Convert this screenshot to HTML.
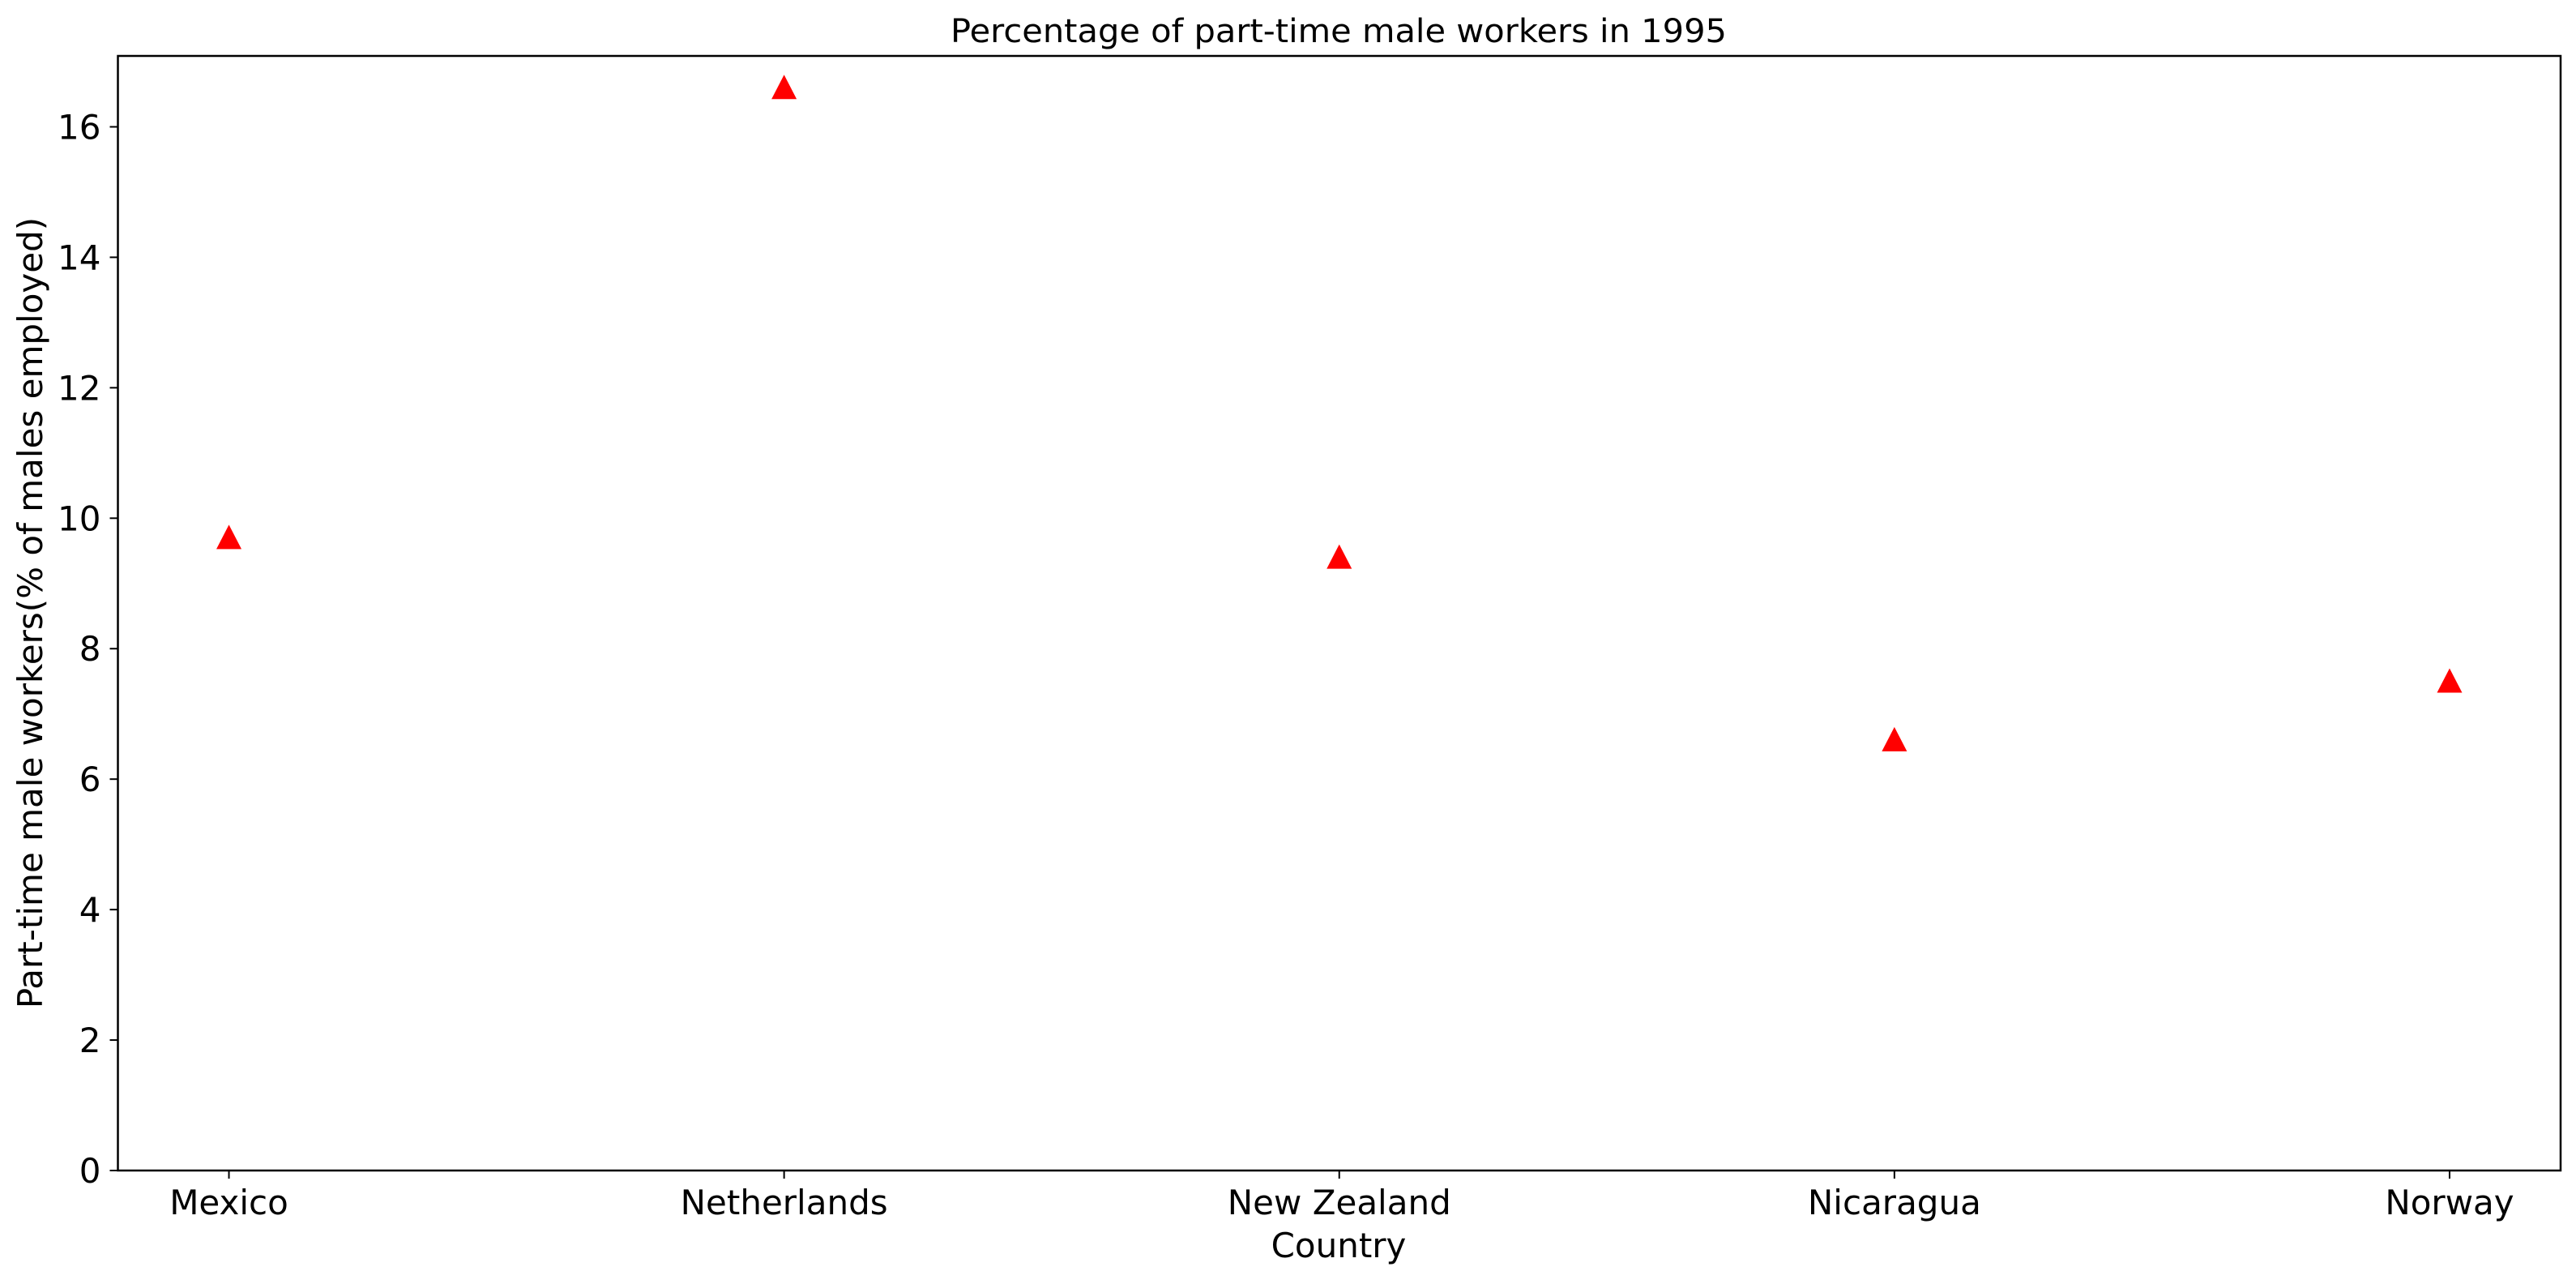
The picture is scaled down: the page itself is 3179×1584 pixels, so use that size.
<!DOCTYPE html>
<html><head><meta charset="utf-8"><style>
html,body{margin:0;padding:0;background:#fff;}
svg text{font-family:"DejaVu Sans","Liberation Sans",sans-serif;fill:#000;}
</style></head><body>
<svg id="chart" width="3179" height="1579" viewBox="0 0 3179 1579" xmlns="http://www.w3.org/2000/svg">
<rect width="3179" height="1579" fill="#fff"/>
<text x="1652" y="52" font-size="40" text-anchor="middle" textLength="958" lengthAdjust="spacingAndGlyphs">Percentage of part-time male workers in 1995</text>
<g id="marks"></g>
<g id="axes"></g>
<text x="1652" y="1551" font-size="42" text-anchor="middle">Country</text>
<text x="0" y="0" font-size="42" text-anchor="middle" transform="translate(52,756) rotate(-90)">Part-time male workers(% of males employed)</text>
</svg>
<script>
const categories = ["Mexico","Netherlands","New Zealand","Nicaragua","Norway"];
const values = [9.7, 16.6, 9.4, 6.6, 7.5];
const yTicks = [0, 2, 4, 6, 8, 10, 12, 14, 16];

const L = 145.5, R = 3160, T = 69, B = 1444;
const xMin = -0.2, xMax = 4.2, yMin = 0, yMax = 17.087;
const xs = i => L + (i - xMin) / (xMax - xMin) * (R - L);
const ys = v => B - (v - yMin) / (yMax - yMin) * (B - T);
const NS = "http://www.w3.org/2000/svg";
function mk(tag, attrs, parent) {
  const e = document.createElementNS(NS, tag);
  for (const k in attrs) e.setAttribute(k, attrs[k]);
  parent.appendChild(e);
  return e;
}
const axes = document.getElementById('axes');
const marks = document.getElementById('marks');

const frame = mk('rect', {x: L, y: T, width: R - L, height: B - T, fill: 'none', stroke: '#000', 'stroke-width': 2.5}, axes);



yTicks.forEach(t => {
  const y = ys(t);
  const tk = mk('line', {x1: L - 10, x2: L, y1: y, y2: y, stroke: '#000', 'stroke-width': 2}, axes);
  
  
  const lb = mk('text', {x: L - 21, y: y + 15, 'font-size': 42, 'text-anchor': 'end'}, axes);
  lb.textContent = t;
  
  
});

categories.forEach((c, i) => {
  const x = xs(i);
  const tk = mk('line', {x1: x, x2: x, y1: B, y2: B + 10, stroke: '#000', 'stroke-width': 2}, axes);
  
  
  const lb = mk('text', {x: x, y: 1498, 'font-size': 42, 'text-anchor': 'middle'}, axes);
  lb.textContent = c;
  
  

  const cy = ys(values[i]);
  const tri = mk('polygon', {points: `${x},${cy - 16} ${x + 15.5},${cy + 14} ${x - 15.5},${cy + 14}`, fill: '#ff0000'}, marks);
  
  
});
</script>
</body></html>
